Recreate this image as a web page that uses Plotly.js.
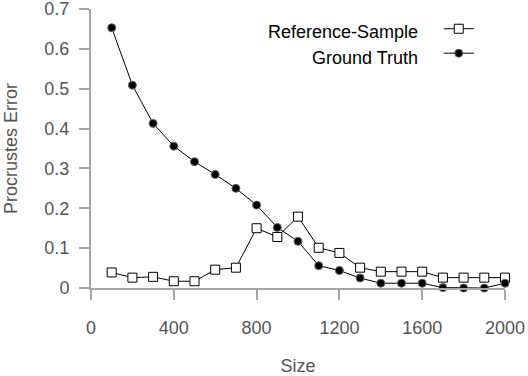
<!DOCTYPE html>
<html>
<head>
<meta charset="utf-8">
<script src="https://cdn.plot.ly/plotly-3.0.1.min.js"></script>
<style>
  html, body { margin: 0; padding: 0; background: #fff; }
  #grafico { width: 528px; height: 376px; }
</style>
</head>
<body>
<div id="grafico"></div>
<script>
// tamanhos (eixo x)
const sizes = [100, 200, 300, 400, 500, 600, 700, 800, 900, 1000,
               1100, 1200, 1300, 1400, 1500, 1600, 1700, 1800, 1900, 2000];

// erro de Procrustes por serie
const refSample = [0.039, 0.026, 0.028, 0.017, 0.017, 0.046, 0.051, 0.150, 0.128, 0.179,
                   0.101, 0.088, 0.051, 0.041, 0.041, 0.041, 0.026, 0.026, 0.026, 0.026];
const groundTruth = [0.653, 0.509, 0.413, 0.356, 0.317, 0.285, 0.250, 0.208, 0.152, 0.117,
                     0.056, 0.044, 0.025, 0.012, 0.012, 0.012, 0.001, 0.000, 0.000, 0.012];

const seriesNames = ["Reference-Sample", "Ground Truth"];
const xTicks = [0, 400, 800, 1200, 1600, 2000];
const yTicks = [0, 0.1, 0.2, 0.3, 0.4, 0.5, 0.6, 0.7];

const font = "Liberation Sans, Arial, sans-serif";
const gray = "#555555";
const axisGray = "#a6a6a6";
const fs = 18;

let data = [
    {x: sizes, y: refSample, name: " ", mode: "lines+markers", cliponaxis: false,
     line: {color: "#000", width: 1},
     marker: {symbol: "square", size: 9, color: "#fff", line: {color: "#000", width: 1}}},
    {x: sizes, y: groundTruth, name: " ", mode: "lines+markers", cliponaxis: false,
     line: {color: "#000", width: 1},
     marker: {symbol: "circle", size: 8, color: "#000", line: {color: "#666", width: 1}}}
];

let layout = {
    width: 528, height: 376,
    margin: {l: 91, r: 23, t: 9, b: 88},
    paper_bgcolor: "#fff", plot_bgcolor: "#fff",
    font: {family: font, size: fs, color: gray},
    showlegend: true,
    legend: {x: 0.840, y: 0.991, xanchor: "left", yanchor: "top",
             bgcolor: "rgba(0,0,0,0)", font: {size: 16.5, color: "#000"},
             itemwidth: 30, tracegroupgap: 0},
    xaxis: {range: [0, 2000], tickvals: xTicks, ticktext: xTicks.map(String),
            showgrid: false, zeroline: false, showline: true, linecolor: axisGray, linewidth: 2,
            ticks: "outside", ticklen: 10, tickwidth: 2, tickcolor: axisGray,
            ticklabelstandoff: 12, ticklabeloverflow: "allow", tickfont: {size: fs, color: gray},
            title: {text: "Size", font: {size: fs, color: gray}, standoff: 31}},
    yaxis: {range: [0, 0.7001], tickvals: yTicks, ticktext: yTicks.map(v => v === 0 ? "0" : v.toFixed(1)),
            showgrid: false, zeroline: false, showline: true, linecolor: axisGray, linewidth: 2,
            ticks: "outside", ticklen: 10, tickwidth: 2, tickcolor: axisGray,
            ticklabelstandoff: 6, ticklabeloverflow: "allow", tickfont: {size: fs, color: gray},
            title: {text: "Procrustes Error", font: {size: fs, color: gray}, standoff: 22}},
    annotations: [
        {xref: "paper", yref: "paper", x: 0.795, y: 0.919, xanchor: "right", yanchor: "middle",
         text: seriesNames[0], showarrow: false, font: {size: fs, color: "#000"}},
        {xref: "paper", yref: "paper", x: 0.795, y: 0.824, xanchor: "right", yanchor: "middle",
         text: seriesNames[1], showarrow: false, font: {size: fs, color: "#000"}}
    ]
};

Plotly.newPlot("grafico", data, layout, {displayModeBar: false, staticPlot: true});
</script>
</body>
</html>
